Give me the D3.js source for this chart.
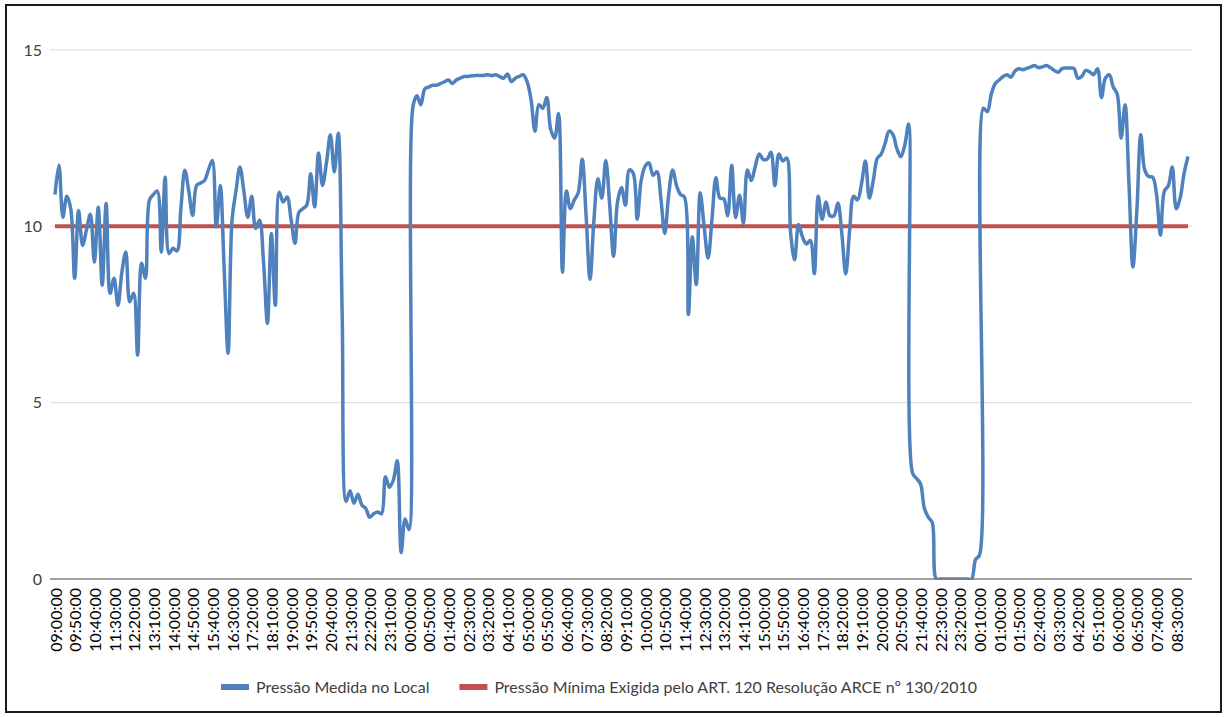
<!DOCTYPE html>
<html>
<head>
<meta charset="utf-8">
<script src="https://cdn.jsdelivr.net/npm/d3@7"></script>
<style>
  body { margin: 0; background: #fff; }
  text { font-family: Lato, "Noto Sans", sans-serif; }
</style>
</head>
<body>
<svg id="chart" width="1227" height="717"></svg>
<script>
// leituras a cada 10 minutos, a partir das 09:00:00
const horaInicial = 9 * 60;
const passoMin = 10;
const tickEvery = 5;

const pressaoMedida = [
  10.9, 11.73, 10.26, 10.85, 10.5, 8.53, 10.45, 9.46, 9.9, 10.34,
  8.99, 10.54, 8.33, 10.65, 8.1, 8.53, 7.76, 8.7, 9.27, 7.86,
  8.1, 6.35, 8.95, 8.53, 10.74, 10.9, 11.0, 9.27, 11.39, 9.23,
  9.38, 9.3, 10.5, 11.59, 11.0, 10.31, 11.16, 11.23, 11.3, 11.6,
  11.87, 9.98, 11.16, 8.8, 6.4, 10.17, 11.0, 11.68, 11.0, 10.26,
  10.85, 9.94, 10.17, 9.0, 7.25, 9.8, 7.76, 10.97, 10.69, 10.83,
  10.2, 9.52, 10.4, 10.5, 10.6, 11.49, 10.55, 12.08, 11.16, 11.8,
  12.6, 11.54, 12.64, 7.5, 2.2, 2.5, 2.15, 2.4, 2.1, 2.0,
  1.75, 1.85, 1.9, 1.85, 2.9, 2.6, 2.8, 3.35, 0.75, 1.7,
  1.4, 13.4, 13.7, 13.45, 13.9, 13.95, 14.0, 14.0, 14.05, 14.1,
  14.15, 14.05, 14.15, 14.2, 14.25, 14.25, 14.27, 14.28, 14.28, 14.28,
  14.3, 14.27, 14.3, 14.25, 14.2, 14.32, 14.1, 14.2, 14.25, 14.3,
  14.1, 13.6, 12.7, 13.45, 13.35, 13.65, 12.75, 12.5, 13.2, 8.7,
  11.0, 10.5, 10.75, 10.95, 11.9, 10.3, 8.5, 10.2, 11.35, 10.8,
  11.87, 10.6, 9.15, 10.7, 11.1, 10.6, 11.6, 11.5, 10.2, 11.3,
  11.7, 11.8, 11.45, 11.55, 10.8, 9.8, 10.9, 11.6, 11.15, 10.9,
  10.83, 7.5, 9.7, 8.35, 10.95, 10.0, 9.1, 10.2, 11.38, 10.8,
  10.78, 10.3, 11.73, 10.25, 10.88, 10.08, 11.6, 11.3, 11.7, 12.05,
  11.9, 11.9, 12.1, 11.15, 12.05, 11.85, 11.94, 9.8, 9.05, 10.05,
  9.7, 9.5, 9.6, 8.66, 10.85, 10.2, 10.69, 10.3, 10.3, 10.66,
  9.8, 8.65, 9.9, 10.85, 10.75, 11.2, 11.85, 10.8, 11.3, 11.92,
  12.05, 12.35, 12.7, 12.6, 12.2, 11.97, 12.3, 12.9, 3.0, 2.85,
  2.7, 2.0, 1.75, 1.6, 0, 0, 0, 0, 0, 0,
  0, 0, 0, 0, 0.55, 0.68, 13.35, 13.25, 13.75, 14.05,
  14.15, 14.25, 14.3, 14.23, 14.4, 14.47, 14.44, 14.48, 14.52, 14.56,
  14.5, 14.52, 14.56, 14.5, 14.42, 14.37, 14.47, 14.49, 14.49, 14.48,
  14.2, 14.25, 14.42, 14.38, 14.3, 14.47, 13.65, 14.2, 14.3, 13.95,
  13.75, 12.5, 13.45, 11.2, 8.85, 10.45, 12.6, 11.6, 11.41, 11.4,
  10.9, 9.75, 11.0, 11.15, 11.68, 10.5, 10.8, 11.5, 11.98
];
const pressaoMinima = 10;
const yTicks = [0, 5, 10, 15];

const legendLabels = [
  'Pressão Medida no Local',
  'Pressão Mínima Exigida pelo ART. 120 Resolução ARCE nº 130/2010'
];
const colors = ['#4f81bd', '#c0504d'];

const pad2 = d3.format('02');
const categorias = pressaoMedida.map((d, i) => {
  const m = (horaInicial + i * passoMin) % 1440;
  return pad2(Math.floor(m / 60)) + ':' + pad2(m % 60) + ':00';
});
const minima = categorias.map(() => pressaoMinima);

const svg = d3.select('#chart');
const plot = {left: 50, right: 1192, top: 50, bottom: 579};

// as horas se repetem entre os dois dias, por isso o dominio e o indice
const x = d3.scalePoint().domain(d3.range(categorias.length)).range([55, 1188]);
const y = d3.scaleLinear().domain([0, 15]).range([plot.bottom, plot.top]);

// moldura
svg.append('rect')
  .attr('x', 6).attr('y', 5).attr('width', 1215).attr('height', 707)
  .attr('fill', 'none').attr('stroke', '#1a1a1a').attr('stroke-width', 2);

// grade horizontal
svg.append('g')
  .selectAll('line')
  .data(yTicks.filter(d => d > 0))
  .join('line')
  .attr('x1', plot.left).attr('x2', plot.right)
  .attr('y1', d => y(d)).attr('y2', d => y(d))
  .attr('stroke', '#d9d9d9').attr('stroke-width', 1);

svg.append('g')
  .selectAll('text')
  .data(yTicks)
  .join('text')
  .attr('x', 42).attr('y', d => y(d))
  .attr('dy', '0.35em')
  .attr('text-anchor', 'end')
  .attr('font-size', 16)
  .attr('fill', '#404040')
  .text(d => d);

svg.append('defs').append('clipPath').attr('id', 'clip')
  .append('rect')
  .attr('x', plot.left).attr('y', 0)
  .attr('width', plot.right - plot.left).attr('height', plot.bottom + 1);

const line = d3.line()
  .x((d, i) => x(i))
  .y(d => y(d))
  .curve(d3.curveCatmullRom.alpha(0.5));

svg.append('path')
  .datum(minima)
  .attr('fill', 'none')
  .attr('stroke', colors[1])
  .attr('stroke-width', 4)
  .attr('d', d3.line().x((d, i) => x(i)).y(d => y(d)));

svg.append('path')
  .datum(pressaoMedida)
  .attr('clip-path', 'url(#clip)')
  .attr('fill', 'none')
  .attr('stroke', colors[0])
  .attr('stroke-width', 3.5)
  .attr('stroke-linejoin', 'round')
  .attr('d', line);

// eixo x
const xAxis = svg.append('g').attr('transform', 'translate(0,' + plot.bottom + ')');
xAxis.append('line')
  .attr('x1', plot.left).attr('x2', plot.right)
  .attr('stroke', '#808080').attr('stroke-width', 1.5);

xAxis.selectAll('text')
  .data(d3.range(0, categorias.length, tickEvery))
  .join('text')
  .attr('transform', i => 'translate(' + (x(i) + 1) + ',9) rotate(-90)')
  .attr('dy', '0.35em')
  .attr('text-anchor', 'end')
  .attr('font-size', 16)
  .attr('fill', '#000')
  .text(i => categorias[i]);

// legenda
const legend = svg.append('g').attr('transform', 'translate(221,687)');
let lx = 0;
legendLabels.forEach((label, i) => {
  const item = legend.append('g').attr('transform', 'translate(' + lx + ',0)');
  item.append('rect')
    .attr('x', 0).attr('y', -3).attr('width', 28).attr('height', 6)
    .attr('fill', colors[i]);
  const t = item.append('text')
    .attr('x', 35).attr('dy', '0.35em')
    .attr('font-size', 16)
    .attr('fill', '#404040')
    .text(label);
  lx += 35 + t.node().getComputedTextLength() + 30;
});
</script>
</body>
</html>
